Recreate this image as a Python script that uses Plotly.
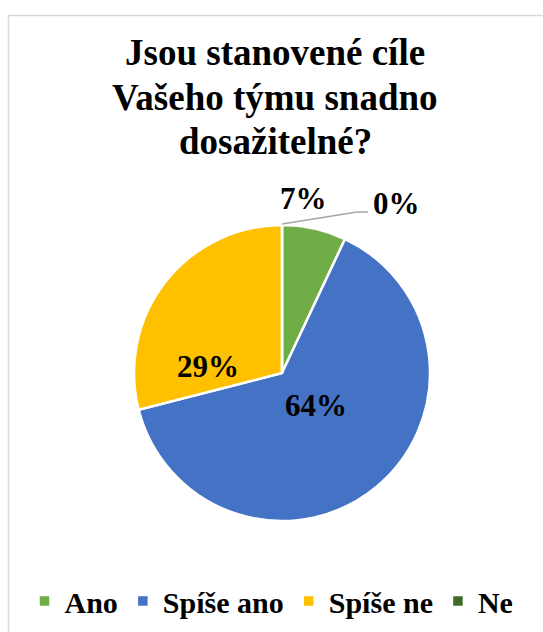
import plotly.graph_objects as go

# Survey answers: share of respondents per option (%)
categories = ["Ano", "Spíše ano", "Spíše ne", "Ne"]
values = [7, 64, 29, 0]
colors = ["#70AD47", "#4472C4", "#FFC000", "#43682B"]

title_lines = ["Jsou stanovené cíle", "Vašeho týmu snadno", "dosažitelné?"]

W, H = 543, 632
SERIF = "Liberation Serif"

total = sum(values)
pct = [round(100 * v / total) for v in values]

# Data-label anchor points (pixels) for each slice
label_px = [(303, 198), (316, 405), (208, 366), (396, 204)]

fig = go.Figure(
    go.Pie(
        labels=categories,
        values=values,
        marker=dict(colors=colors, line=dict(color="white", width=2.5)),
        sort=False,
        direction="clockwise",
        rotation=0,
        textinfo="none",
        domain=dict(x=[134 / W, 430 / W], y=[1 - 521 / H, 1 - 225 / H]),
        hoverinfo="label+percent",
        showlegend=True,
    )
)

label_font = dict(family=SERIF, size=31, color="black", weight="bold")
for p, (px, py) in zip(pct, label_px):
    fig.add_annotation(
        x=px / W, y=1 - py / H, xref="paper", yref="paper",
        text=f"<b>{p}%</b>", showarrow=False, font=label_font,
        xanchor="center", yanchor="middle",
    )

# Leader line of the zero slice
fig.add_shape(
    type="path", xref="paper", yref="paper",
    path=f"M {282 / W},{1 - 224 / H} L {357 / W},{1 - 212 / H} L {368 / W},{1 - 212 / H}",
    line=dict(color="#A6A6A6", width=1.5),
)

# Chart-area frame
fig.add_shape(
    type="rect", xref="paper", yref="paper",
    x0=8.5 / W, x1=1.05, y0=-0.05, y1=1 - 15.5 / H,
    line=dict(color="#D9D9D9", width=1.5), fillcolor="rgba(0,0,0,0)",
)

# Chart title, one annotation per line
title_font = dict(family=SERIF, size=37, color="black", weight="bold")
for i, line in enumerate(title_lines):
    fig.add_annotation(
        x=275 / W, y=1 - (52 + 45 * i) / H, xref="paper", yref="paper",
        text=f"<b>{line}</b>", showarrow=False,
        xanchor="center", yanchor="middle", font=title_font,
    )

fig.update_layout(
    width=W, height=H,
    margin=dict(l=0, r=0, t=0, b=0),
    paper_bgcolor="white", plot_bgcolor="white",
    font=dict(family=SERIF),
    legend=dict(
        orientation="h", x=0.5, xanchor="center", y=1 - 601 / H, yanchor="middle",
        font=dict(family=SERIF, size=30, color="black", weight="bold"),
        itemclick=False,
    ),
)

fig.write_html("out.html")
